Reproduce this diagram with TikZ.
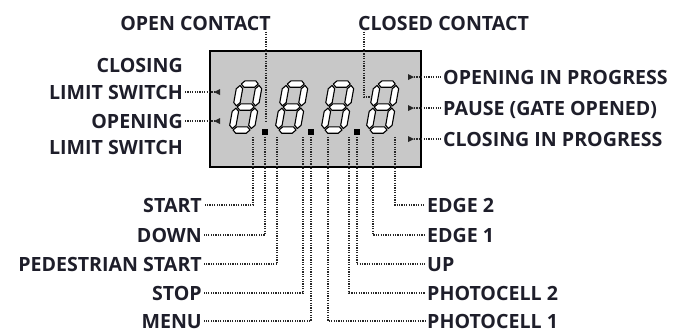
\documentclass[tikz,border=0pt]{standalone}
\usepackage{fontspec}
\setmainfont{Open Sans}
\definecolor{ink}{HTML}{1E1E2A}
\definecolor{lcd}{HTML}{C8C8C8}
\newcommand\segH[3]{(#1,#3)--(#1+3.2,#3+3.2)--(#2-3.2,#3+3.2)--(#2,#3)--(#2-3.2,#3-3.2)--(#1+3.2,#3-3.2)--cycle}
\newcommand\segV[3]{(#1,#2)--(#1+3.2,#2+3.2)--(#1+3.2,#3-3.2)--(#1,#3)--(#1-3.2,#3-3.2)--(#1-3.2,#2+3.2)--cycle}
\newcommand\sevdigit{%
    \path[seg] \segH{4.5}{21.5}{49};
    \path[seg] \segH{4.5}{21.5}{26};
    \path[seg] \segH{4.5}{21.5}{3};
    \path[seg] \segV{3.5}{4.5}{24.8};
    \path[seg] \segV{3.5}{27.2}{47.5};
    \path[seg] \segV{22.5}{4.5}{24.8};
    \path[seg] \segV{22.5}{27.2}{47.5};}
\begin{document}
\begin{tikzpicture}[x=1pt,y=1pt,
  lbl/.style={font=\fontsize{19.6}{19.6}\selectfont\bfseries, text=ink, inner sep=0pt, text height=14pt, text depth=0pt},
  dotl/.style={draw=black!85, line width=1.1pt, dash pattern=on 1.2pt off 1.2pt},
  seg/.style={draw=black, fill=white, line width=1.1pt, line join=round},
  tri/.style={fill=black!85}]
\useasboundingbox (0,0) rectangle (673,-333);
% display
\node[draw=black, line width=2pt, fill=lcd, minimum width=211pt, minimum height=116pt, inner sep=0pt, anchor=north west] (disp) at (209,-50) {};
\foreach \dx in {228,274,320,365}{
  \begin{scope}[shift={(\dx,-133)}, xslant=0.18]
    \sevdigit
  \end{scope}
}
\foreach \dx in {265,311,357}{
  \fill[black] (\dx-2.6,-134.6) rectangle (\dx+2.6,-129.4);
}
% triangles
\coordinate (tl1) at (214,-92);
\coordinate (tl2) at (214,-121);
\coordinate (tr1) at (414,-77);
\coordinate (tr2) at (414,-108);
\coordinate (tr3) at (414,-139);
\foreach \c in {tl1,tl2}{\fill[tri] (\c) -- ++(6,3) -- ++(0,-6) -- cycle;}
\foreach \c in {tr1,tr2,tr3}{\fill[tri] (\c) -- ++(-6,3) -- ++(0,-6) -- cycle;}
% top labels
\node[lbl, anchor=east] (openc) at (271,-23) {OPEN CONTACT};
\node[lbl, anchor=west] (closedc) at (358,-23) {CLOSED CONTACT};
\coordinate (oc) at (266,-122);
\coordinate (ccx) at (364,-97);
\coordinate (cc) at (372,-97);
\draw[dotl] (oc |- openc.south) ++(0,-1.5) -- (oc);
\draw[dotl] (ccx |- closedc.south) ++(0,-1.5) |- (cc);
% left labels
\node[lbl, anchor=east] (cls1) at (183,-65) {CLOSING};
\node[lbl, anchor=east] (cls2) at (183,-92) {LIMIT SWITCH};
\node[lbl, anchor=east] (opn1) at (183,-121) {OPENING};
\node[lbl, anchor=east] (opn2) at (183,-147) {LIMIT SWITCH};
\draw[dotl] ([xshift=2pt]cls2.east) -- (tl1);
\draw[dotl] ([xshift=2pt]opn1.east) -- (tl2);
% right labels
\node[lbl, anchor=west] (oip) at (443,-77) {OPENING IN PROGRESS};
\node[lbl, anchor=west] (pause) at (443,-108) {PAUSE (GATE OPENED)};
\node[lbl, anchor=west] (cip) at (443,-139) {CLOSING IN PROGRESS};
\draw[dotl] (tr1) -- ([xshift=-2pt]oip.west);
\draw[dotl] (tr2) -- ([xshift=-2pt]pause.west);
\draw[dotl] (tr3) -- ([xshift=-2pt]cip.west);
% bottom labels
\node[lbl, anchor=east] (start) at (202,-205) {START};
\node[lbl, anchor=east] (down) at (202,-235) {DOWN};
\node[lbl, anchor=east] (ped) at (202,-264) {PEDESTRIAN START};
\node[lbl, anchor=east] (stop) at (202,-293) {STOP};
\node[lbl, anchor=east] (menu) at (202,-321) {MENU};
\node[lbl, anchor=west] (edge2) at (427,-205) {EDGE 2};
\node[lbl, anchor=west] (edge1) at (427,-235) {EDGE 1};
\node[lbl, anchor=west] (up) at (427,-264) {UP};
\node[lbl, anchor=west] (pc2) at (427,-293) {PHOTOCELL 2};
\node[lbl, anchor=west] (pc1) at (427,-321) {PHOTOCELL 1};
\coordinate (bStart) at (253,-137);
\coordinate (bDown) at (265,-137);
\coordinate (bPed) at (277,-137);
\coordinate (bStop) at (303,-137);
\coordinate (bMenu) at (311,-137);
\coordinate (bPc1) at (328,-137);
\coordinate (bPc2) at (349,-137);
\coordinate (bUp) at (357,-137);
\coordinate (bEdge1) at (373,-137);
\coordinate (bEdge2) at (395,-137);
\draw[dotl] (bStart) |- ([xshift=2pt]start.east);
\draw[dotl] (bDown) |- ([xshift=2pt]down.east);
\draw[dotl] (bPed) |- ([xshift=2pt]ped.east);
\draw[dotl] (bStop) |- ([xshift=2pt]stop.east);
\draw[dotl] (bMenu) |- ([xshift=2pt]menu.east);
\draw[dotl] (bPc1) |- ([xshift=-2pt]pc1.west);
\draw[dotl] (bPc2) |- ([xshift=-2pt]pc2.west);
\draw[dotl] (bUp) |- ([xshift=-2pt]up.west);
\draw[dotl] (bEdge1) |- ([xshift=-2pt]edge1.west);
\draw[dotl] (bEdge2) |- ([xshift=-2pt]edge2.west);
\end{tikzpicture}
\end{document}
